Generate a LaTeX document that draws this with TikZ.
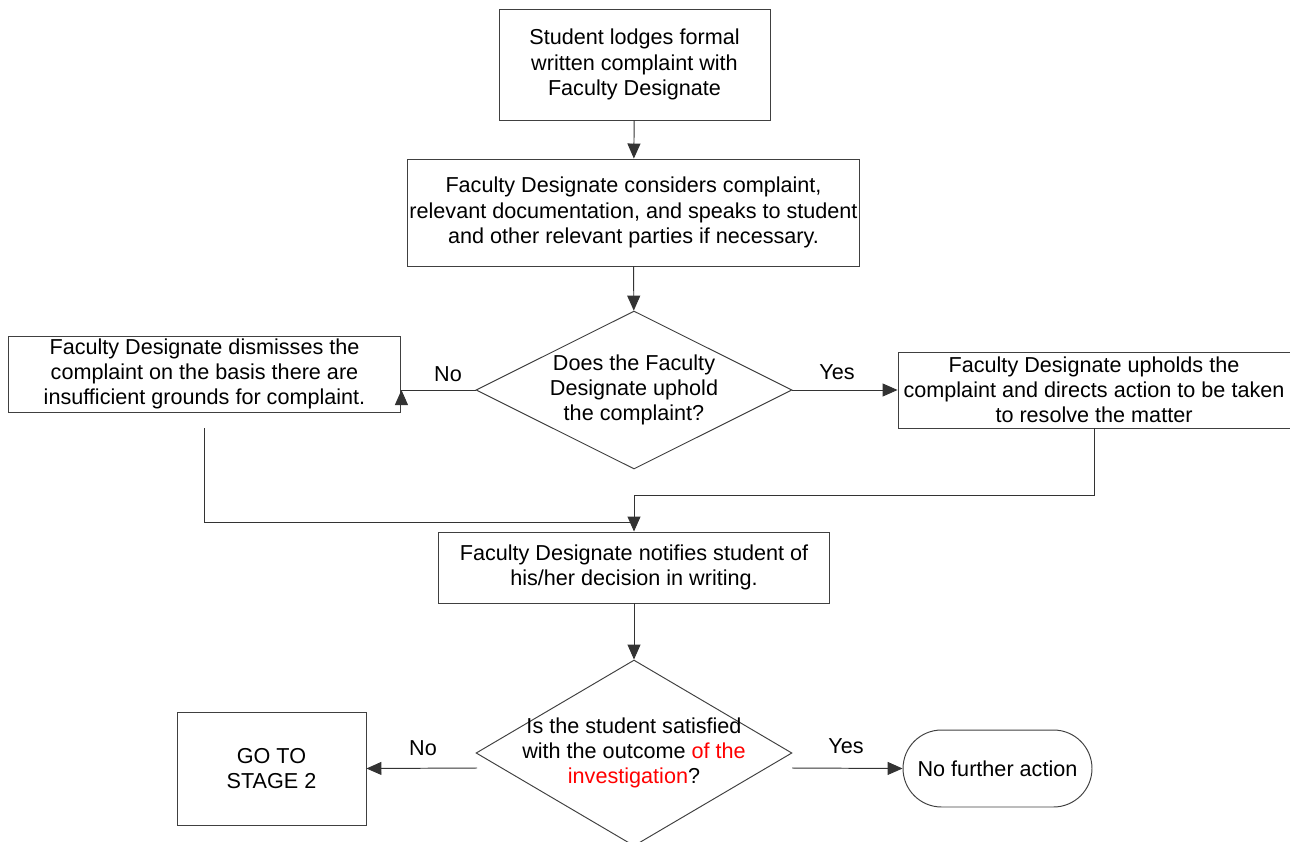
\documentclass[tikz,border=0pt]{standalone}
\usepackage{xcolor}
\usepackage{fontspec}
\setmainfont{Liberation Sans}
\usetikzlibrary{arrows.meta,shapes.geometric}

\begin{document}
\begin{tikzpicture}[x=0.02cm,y=-0.02cm,
    box/.style={draw=black!75,line width=0.55pt,align=center,inner sep=0pt,font=\fontsize{12.3}{14.3}\selectfont},
    decision/.style={draw=black!75,line width=0.55pt,diamond,inner sep=0pt,minimum width=6.32cm,minimum height=3.16cm},
    conn/.style={draw=black!80,line width=0.55pt},
    arrow/.style={conn,-{Triangle[length=0.3cm,width=0.26cm]}},
    lbl/.style={font=\fontsize{12.3}{14.3}\selectfont}]
    \useasboundingbox (0,0) rectangle (1290,841);

    % Complaint lodged and considered
    \node[box,minimum width=5.42cm,minimum height=2.22cm] (lodge) at (634.5,64.5)
      {Student lodges formal\\written complaint with\\Faculty Designate};
    \node[box,minimum width=9.06cm,minimum height=2.14cm] (consider) at (633.5,212.5)
      {Faculty Designate considers complaint,\\relevant documentation, and speaks to student\\and other relevant parties if necessary.};

    % First decision
    \node[decision,label={[lbl,align=center]center:Does the Faculty\\Designate uphold\\the complaint?}] (uphold?) at (634,390) {};

    % Outcomes of first decision
    \node[box,minimum width=7.86cm,minimum height=1.52cm] (dismiss) at (204.5,374)
      {Faculty Designate dismisses the\\complaint on the basis there are\\insufficient grounds for complaint.};
    \node[box,minimum width=7.84cm,minimum height=1.52cm] (upholds) at (1094,390)
      {Faculty Designate upholds the\\complaint and directs action to be taken\\to resolve the matter};

    % Notification
    \node[box,minimum width=7.84cm,minimum height=1.42cm] (notify) at (634,567.5)
      {Faculty Designate notifies student of\\his/her decision in writing.};

    % Second decision (taller, runs off the bottom)
    \node[decision,minimum height=3.72cm,label={[lbl,align=center]center:Is the student satisfied\\with the outcome \textcolor{red}{of the}\\\textcolor{red}{investigation}?}] (satisfied?) at (634,753) {};

    % Final outcomes
    \node[box,minimum width=3.78cm,minimum height=2.26cm] (stage2) at (271.5,768.5) {GO TO\\STAGE 2};
    \node[box,minimum width=3.78cm,minimum height=1.54cm,rounded corners=0.77cm] (nfa) at (997.5,768.5) {No further action};

    % Connector end points
    \coordinate (dismissOut) at (204,428);
    \coordinate (joinL) at (634,522);
    \coordinate (joinR) at (634,495);
    \coordinate (noOut) at (477,768);
    \coordinate (yesOut) at (792,768);

    % Connectors
    \draw[arrow] (lodge) -- (consider);
    \draw[arrow] (consider) -- (uphold?);
    \draw[conn] (uphold?.west) -- (dismiss.east |- uphold?.west);
    \draw[arrow] ([yshift=-0.24cm]dismiss.east |- uphold?.west) -- (dismiss.east |- uphold?.west);
    \draw[arrow] (uphold?.east) -- (upholds.west);
    \draw[conn] (dismissOut) |- (joinL);
    \draw[arrow] (upholds.south) |- (joinR) -- (notify.north);
    \draw[arrow] (notify) -- (satisfied?);
    \draw[arrow] (noOut) -- (stage2.east);
    \draw[arrow] (yesOut) -- (nfa.west);

    % Yes / No labels
    \node[lbl] (no1) at (448,374) {No};
    \node[lbl] (yes1) at (837,372) {Yes};
    \node[lbl] (no2) at (423,748) {No};
    \node[lbl] (yes2) at (846,746) {Yes};
\end{tikzpicture}
\end{document}
